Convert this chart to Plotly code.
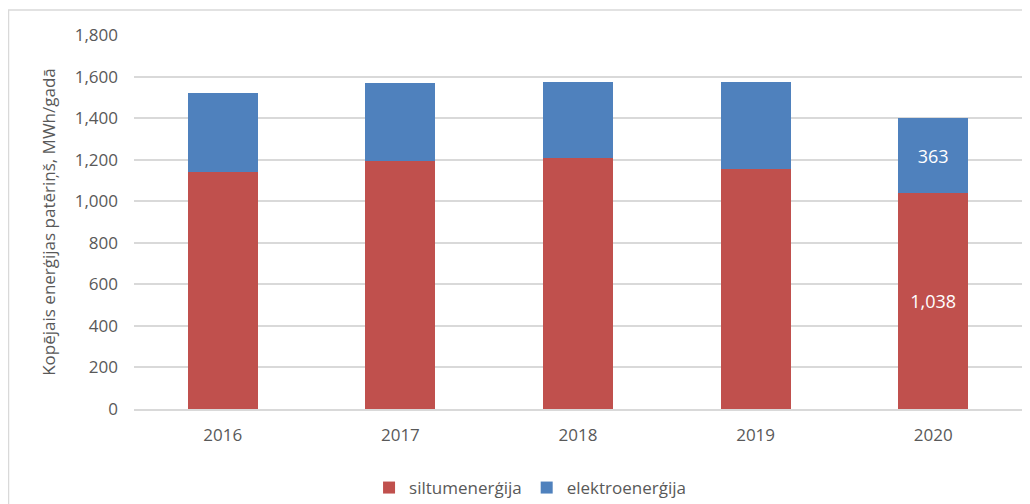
import plotly.graph_objects as go

years = ["2016", "2017", "2018", "2019", "2020"]
siltum = [1141, 1194, 1207, 1157, 1038]
elektro = [382, 375, 368, 417, 363]
siltum_labels = ["", "", "", "", "1,038"]
elektro_labels = ["", "", "", "", "363"]
tick_vals = [0, 200, 400, 600, 800, 1000, 1200, 1400, 1600, 1800]
tick_text = ["0", "200", "400", "600", "800", "1,000", "1,200", "1,400", "1,600", "1,800"]

font_family = "Open Sans, Liberation Sans, sans-serif"
gray = "#595959"

# page body has an 8px default margin, so the figure is sized to fit the window
W, H = 1022, 496
L, R, T, B = 126, 8, 27, 95
pw, ph = W - L - R, H - T - B

fig = go.Figure()
fig.add_trace(go.Bar(
    x=years, y=siltum, name="siltumenerģija", marker=dict(color="#C0504D", line=dict(width=0)),
    text=siltum_labels, textposition="inside", insidetextanchor="middle",
    textfont=dict(color="white", size=18, family=font_family),
))
fig.add_trace(go.Bar(
    x=years, y=elektro, name="elektroenerģija", marker=dict(color="#4F81BD", line=dict(width=0)),
    text=elektro_labels, textposition="inside", insidetextanchor="middle",
    textfont=dict(color="white", size=18, family=font_family),
))

fig.update_layout(
    barmode="stack",
    bargap=0.606,
    width=W, height=H,
    margin=dict(l=L, r=R, t=T, b=B, autoexpand=False),
    paper_bgcolor="white", plot_bgcolor="white",
    font=dict(family=font_family, color=gray, size=17),
    showlegend=True,
    legend=dict(orientation="h", x=0.446, xanchor="center", y=-(462 - 401) / ph, yanchor="top",
                font=dict(size=17, color=gray), itemwidth=30, traceorder="normal"),
    yaxis=dict(range=[0, 1800], tickvals=tick_vals, ticktext=tick_text,
               showgrid=True, gridcolor="#d9d9d9", gridwidth=1.5, zeroline=False,
               showline=False, ticks="", ticklabelstandoff=15, tickfont=dict(size=17, color=gray),
               title=dict(text="Kopējais enerģijas patēriņš, MWh/gadā", font=dict(size=17, color=gray), standoff=14)),
    xaxis=dict(showline=True, linecolor="#d9d9d9", linewidth=1.5, ticks="", ticklabelstandoff=10,
               tickfont=dict(size=17, color=gray)),
    shapes=[dict(type="rect", xref="paper", yref="paper",
                 x0=(0.5 - L) / pw, x1=(W + 20 - L) / pw, y0=-(H + 20 - T - ph) / ph, y1=(ph + T - 2) / ph,
                 line=dict(color="#d9d9d9", width=1.5), fillcolor="rgba(0,0,0,0)", layer="below")],
)

fig.write_html("out.html")
